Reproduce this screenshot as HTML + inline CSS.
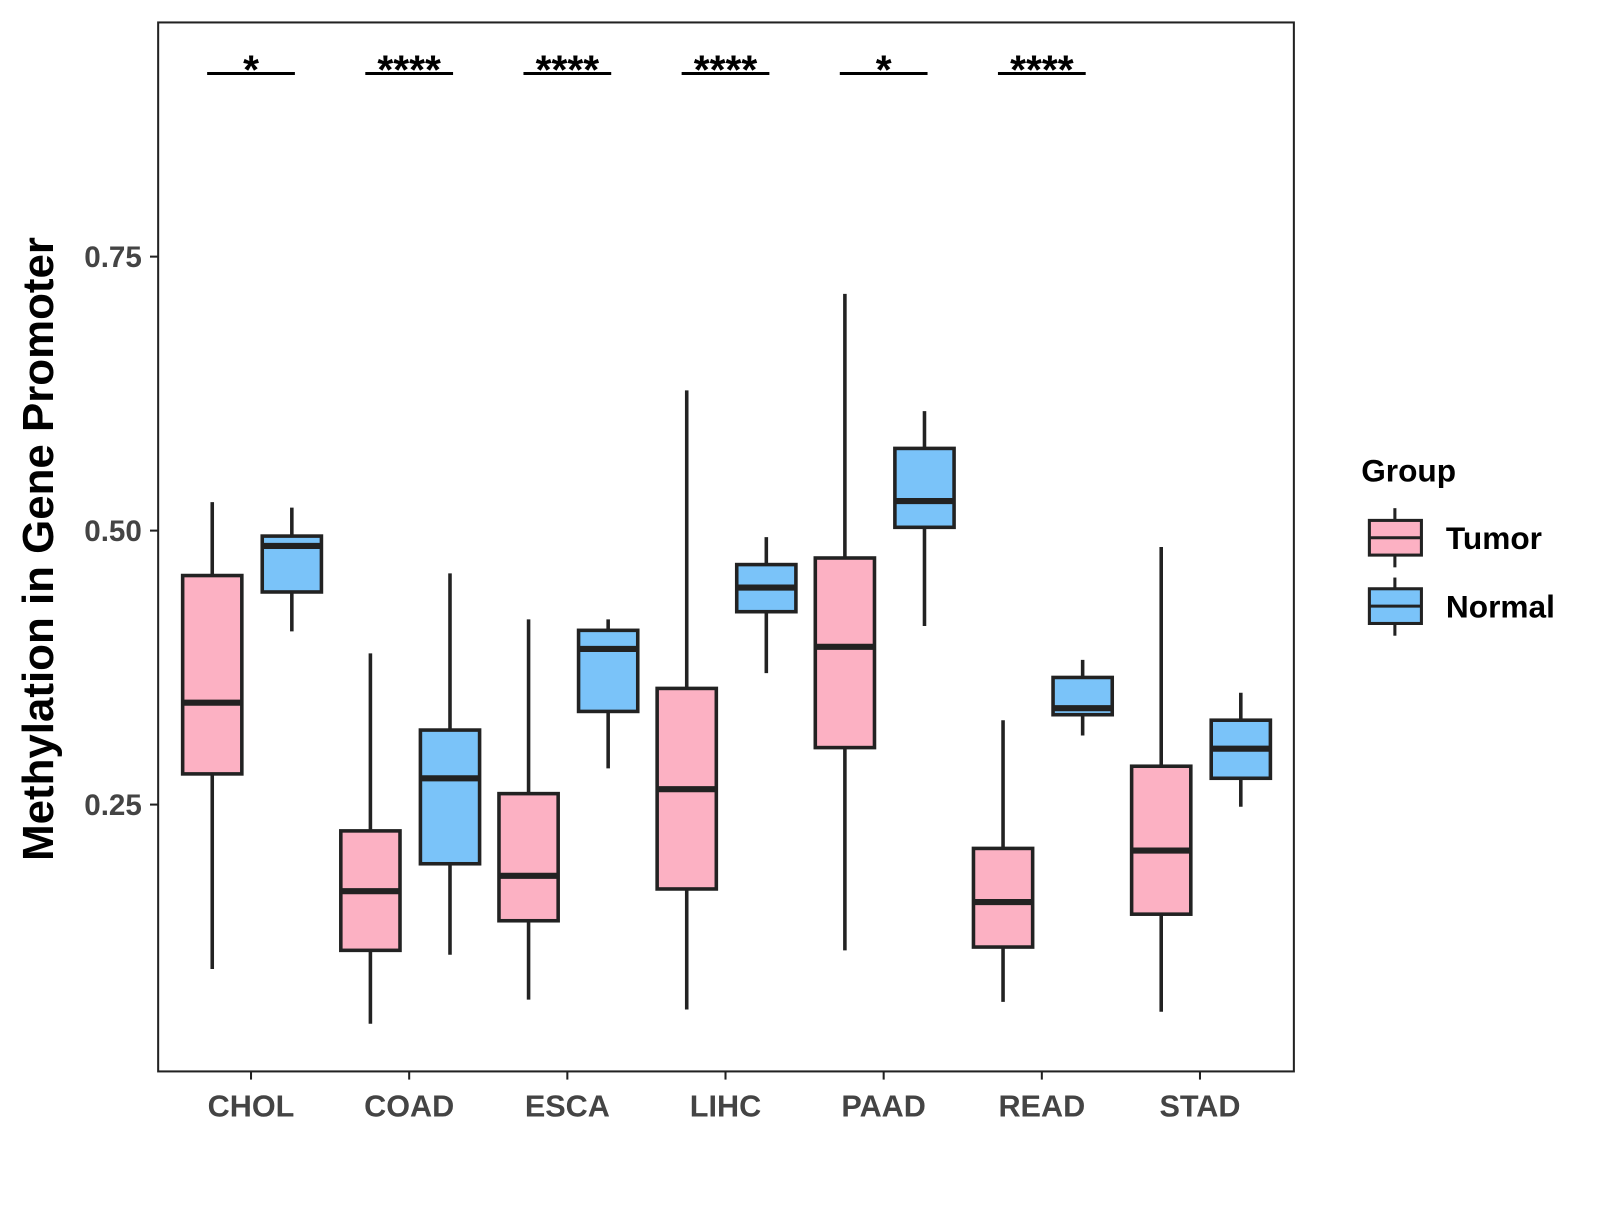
<!DOCTYPE html>
<html><head><meta charset="utf-8"><style>body{margin:0;background:#fff}svg text{font-family:"Liberation Sans",Arial,sans-serif;font-weight:bold}</style></head>
<body>
<svg id="chart" width="1600" height="1200" xmlns="http://www.w3.org/2000/svg">
<g transform="scale(1.0204)">
<rect x="155" y="22" width="1113" height="1028" fill="#fff" stroke="#222" stroke-width="2"/>
<g id="marks"></g>
<text x="52" y="538" font-size="43" text-anchor="middle" transform="rotate(-90 52 538)" fill="#000">Methylation in Gene Promoter</text>
<g>
<text x="1334" y="472" font-size="31" fill="#000">Group</text>
<g>
<line x1="1367" y1="498" x2="1367" y2="556" stroke="#222" stroke-width="3"/>
<rect x="1342" y="510" width="51" height="34" fill="#FCB1C3" stroke="#222" stroke-width="3"/>
<line x1="1342" y1="527" x2="1393" y2="527" stroke="#222" stroke-width="3"/>
<text x="1417" y="538" font-size="31" fill="#000">Tumor</text></g>
<g>
<line x1="1367" y1="566" x2="1367" y2="623" stroke="#222" stroke-width="3"/>
<rect x="1342" y="577" width="51" height="34" fill="#7AC3F9" stroke="#222" stroke-width="3"/>
<line x1="1342" y1="594" x2="1393" y2="594" stroke="#222" stroke-width="3"/>
<text x="1417" y="605" font-size="31" fill="#000">Normal</text></g>
</g>
</g>
</svg>
<script>
const categories=["CHOL","COAD","ESCA","LIHC","PAAD","READ","STAD"];
const tumorStats=[[0.100,0.278,0.343,0.459,0.526],[0.050,0.117,0.171,0.226,0.388],[0.072,0.144,0.185,0.260,0.419],[0.063,0.173,0.264,0.356,0.628],[0.117,0.302,0.394,0.475,0.716],[0.070,0.120,0.161,0.210,0.327],[0.061,0.150,0.208,0.285,0.485]];
const normalStats=[[0.408,0.444,0.486,0.495,0.521],[0.113,0.196,0.274,0.318,0.461],[0.283,0.335,0.392,0.409,0.419],[0.370,0.426,0.448,0.469,0.494],[0.413,0.503,0.527,0.575,0.609],[0.313,0.332,0.338,0.366,0.382],[0.248,0.274,0.301,0.327,0.352]];
const significance=["*","****","****","****","*","****",""];
const yTicks=[0.25,0.5,0.75];
const yTickLabels=["0.25","0.50","0.75"];
const NS="http://www.w3.org/2000/svg";
const g=document.getElementById("marks");
const yS=v=>520-(v-0.5)*1074;
const xS=i=>246+i*155;
function mk(t,a,p){const e=document.createElementNS(NS,t);for(const k in a)e.setAttribute(k,a[k]);(p||g).appendChild(e);return e;}
yTicks.forEach((v,i)=>{
 const t=mk("line",{x1:147,x2:155,y1:yS(v),y2:yS(v),stroke:"#222","stroke-width":2});
 
 
 const l=mk("text",{x:139,y:yS(v)+10,"font-size":29,"text-anchor":"end",fill:"#444"});
 l.textContent=yTickLabels[i];
 
 
});
function box(cx,s,fill,name){
 const grp=mk("g",{});
 
 
 mk("line",{x1:cx,x2:cx,y1:yS(s[4]),y2:yS(s[0]),stroke:"#222","stroke-width":3.5},grp);
 mk("rect",{x:cx-29,y:yS(s[3]),width:58,height:yS(s[1])-yS(s[3]),fill:fill,stroke:"#222","stroke-width":3.5},grp);
 mk("line",{x1:cx-29,x2:cx+29,y1:yS(s[2]),y2:yS(s[2]),stroke:"#222","stroke-width":6},grp);
}
categories.forEach((c,i)=>{
 const x=xS(i);
 box(x-38,tumorStats[i],"#FCB1C3","box-tumor-"+c.toLowerCase());
 box(x+40,normalStats[i],"#7AC3F9","box-normal-"+c.toLowerCase());
 const t=mk("line",{x1:x,x2:x,y1:1050,y2:1058,stroke:"#222","stroke-width":2});
 
 
 const l=mk("text",{x:x,y:1094,"font-size":30,"text-anchor":"middle",fill:"#444"});
 l.textContent=c;
 
 
 if(significance[i]){
  const sl=mk("line",{x1:x-43,x2:x+43,y1:72,y2:72,stroke:"#000","stroke-width":3});
  
  
  const st=mk("text",{x:x,y:82,"font-size":40,"text-anchor":"middle",fill:"#000"});
  st.textContent=significance[i];
  
  
 }
});
</script>
</body></html>
